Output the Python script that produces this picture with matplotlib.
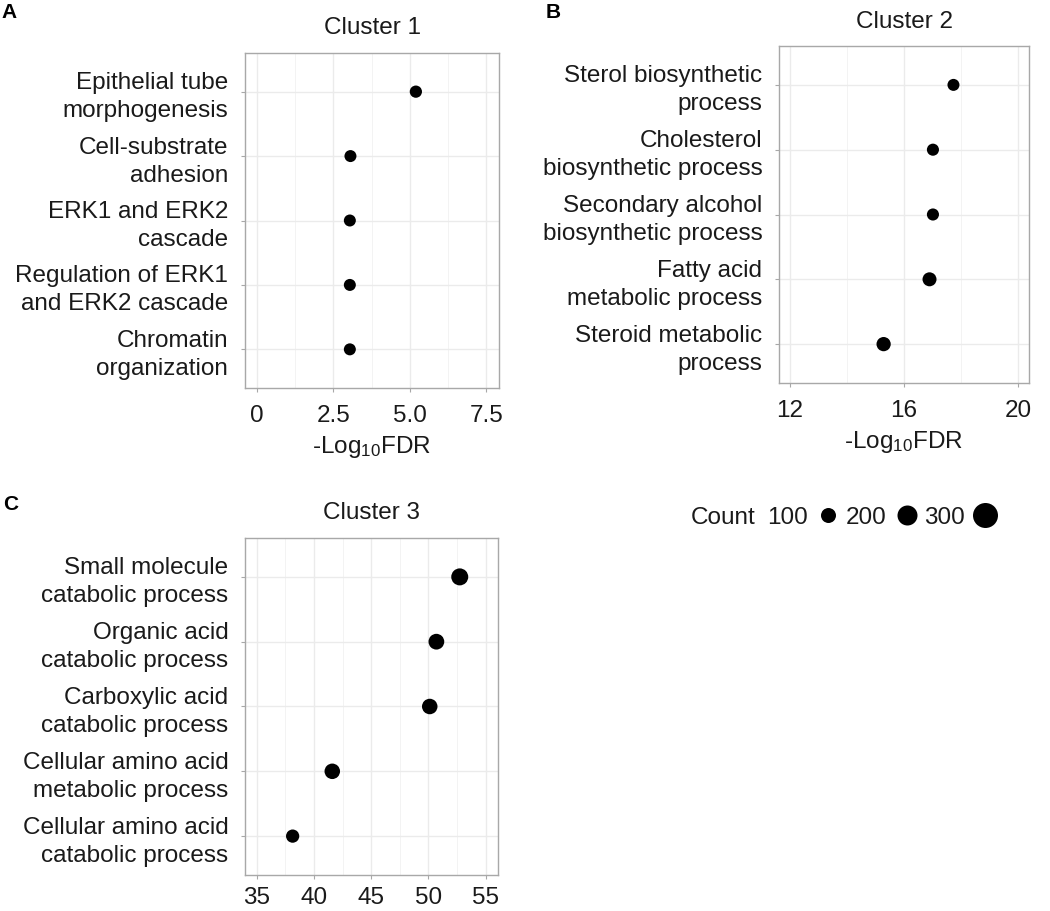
import matplotlib
matplotlib.use("Agg")
import matplotlib.pyplot as plt
from matplotlib.lines import Line2D

plt.rcParams['font.family'] = ['Liberation Sans', 'DejaVu Sans']
plt.rcParams['mathtext.fontset'] = 'custom'
plt.rcParams['mathtext.rm'] = 'Liberation Sans'
plt.rcParams['mathtext.it'] = 'Liberation Sans'

# ---------------- data ----------------
terms_c1 = ["Epithelial tube\nmorphogenesis", "Cell-substrate\nadhesion",
            "ERK1 and ERK2\ncascade", "Regulation of ERK1\nand ERK2 cascade",
            "Chromatin\norganization"]
fdr_c1 = [5.2, 3.06, 3.04, 3.04, 3.04]
count_c1 = [45, 40, 40, 40, 40]

terms_c2 = ["Sterol biosynthetic\nprocess", "Cholesterol\nbiosynthetic process",
            "Secondary alcohol\nbiosynthetic process", "Fatty acid\nmetabolic process",
            "Steroid metabolic\nprocess"]
fdr_c2 = [17.74, 17.02, 17.02, 16.9, 15.29]
count_c2 = [40, 42, 42, 80, 85]

terms_c3 = ["Small molecule\ncatabolic process", "Organic acid\ncatabolic process",
            "Carboxylic acid\ncatabolic process", "Cellular amino acid\nmetabolic process",
            "Cellular amino acid\ncatabolic process"]
fdr_c3 = [52.73, 50.69, 50.11, 41.6, 38.14]
count_c3 = [140, 115, 110, 110, 65]

legend_counts = [100, 200, 300]

W, H = 1050, 911
fig = plt.figure(figsize=(W / 100, H / 100), dpi=100)


def msize(c):
    # marker diameter in points
    return (10 + c * 0.05) * 0.72


def add_panel(left, right, top, bottom, terms, vals, counts, xlim, majors, minors,
              ticklabels, title, title_y, xlabel, xpad=9):
    ax = fig.add_axes([left / W, 1 - bottom / H, (right - left) / W, (bottom - top) / H])
    ypos = list(range(len(terms)))
    ax.set_xlim(*xlim)
    ax.set_ylim(len(terms) - 0.4, -0.6)
    ax.set_xticks(majors)
    ax.set_xticklabels(ticklabels)
    ax.set_xticks(minors, minor=True)
    ax.set_yticks(ypos)
    ax.set_yticklabels(terms, linespacing=1.35, multialignment='right')
    ax.grid(True, which='major', color='#EBEBEB', lw=1.0, zorder=0)
    ax.grid(True, which='minor', axis='x', color='#F3F3F3', lw=0.7, zorder=0)
    ax.set_axisbelow(True)
    ax.scatter(vals, ypos, s=[msize(c) ** 2 for c in counts], color='black', zorder=3,
               linewidths=0)
    for sp in ax.spines.values():
        sp.set_color('#A8A8A8')
        sp.set_linewidth(1.0)
    ax.tick_params(axis='both', which='major', length=3, color='#A8A8A8',
                   labelsize=17.5, labelcolor='#1A1A1A')
    ax.tick_params(axis='x', which='major', pad=xpad)
    ax.tick_params(axis='y', which='major', pad=9)
    ax.tick_params(axis='x', which='minor', length=0)
    if xlabel:
        ax.set_xlabel(xlabel, fontsize=17.5, color='#1A1A1A', labelpad=5)
    fig.text((left + right) / 2 / W, 1 - title_y / H, title, ha='center', va='center',
             fontsize=17.5, color='#1A1A1A')
    return ax


xl = "-Log$_{10}$FDR"
add_panel(245, 499, 53, 388, terms_c1, fdr_c1, count_c1, (-0.39, 7.92),
          [0, 2.5, 5.0, 7.5], [1.25, 3.75, 6.25], ["0", "2.5", "5.0", "7.5"],
          "Cluster 1", 28, xl)
add_panel(779, 1029, 46, 383, terms_c2, fdr_c2, count_c2, (11.62, 20.39),
          [12, 16, 20], [14, 18], ["12", "16", "20"],
          "Cluster 2", 22, xl)
add_panel(245, 498, 538, 875, terms_c3, fdr_c3, count_c3, (33.98, 56.07),
          [35, 40, 45, 50, 55], [37.5, 42.5, 47.5, 52.5], ["35", "40", "45", "50", "55"],
          "Cluster 3", 513, None, xpad=6)

# panel letters
fig.text(1 / W, 1 - 12 / H, "A", fontsize=15, fontweight='bold', va='center', ha='left')
fig.text(546 / W, 1 - 12 / H, "B", fontsize=15, fontweight='bold', va='center', ha='left')
fig.text(3 / W, 1 - 505 / H, "C", fontsize=15, fontweight='bold', va='center', ha='left')

# size legend
handles = [Line2D([], [], marker='o', ls='', color='black', markeredgewidth=0,
                  markersize=msize(c)) for c in legend_counts]
fig.text(691 / W, 1 - 518 / H, "Count", fontsize=17.5, va='center', ha='left', color='#1A1A1A')
leg = fig.legend(handles, [str(c) for c in legend_counts], ncol=3, markerfirst=False,
                 frameon=False, fontsize=17.5, loc='center left',
                 bbox_to_anchor=(767 / W, 1 - 518 / H), handletextpad=0.25,
                 columnspacing=0.1, handlelength=1.2, borderpad=0, borderaxespad=0)
for t in leg.get_texts():
    t.set_color('#1A1A1A')

fig.savefig("out.png", dpi=100)
